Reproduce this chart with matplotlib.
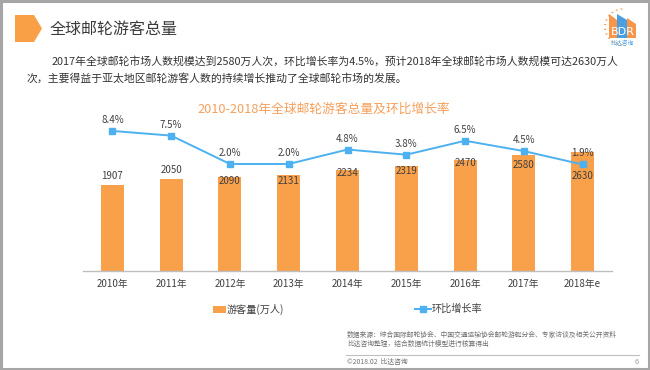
import matplotlib
matplotlib.use('Agg')
import matplotlib.pyplot as plt
import numpy as np
from matplotlib.patches import Rectangle, Polygon, Circle
from matplotlib.lines import Line2D

plt.rcParams['font.family'] = ['Noto Sans CJK SC', 'DejaVu Sans']

# ---------------- data ----------------
years = ['2010年', '2011年', '2012年', '2013年', '2014年', '2015年', '2016年', '2017年', '2018年e']
visitors = [1907, 2050, 2090, 2131, 2234, 2319, 2470, 2580, 2630]
growth = [8.4, 7.5, 2.0, 2.0, 4.8, 3.8, 6.5, 4.5, 1.9]
growth_labels = ['8.4%', '7.5%', '2.0%', '2.0%', '4.8%', '3.8%', '6.5%', '4.5%', '1.9%']

# label placement (pixels, positive = downward from bar top)
bar_label_offsets = [-9, -9, 4, 6, 3, 5, 3, 10, 24]

W, H = 650, 370
fig = plt.figure(figsize=(6.5, 3.7), dpi=100)
fig.patch.set_facecolor('white')

def fx(p):
    return p / W

def fy(p):
    return 1 - p / H

ORANGE = '#F9A04B'
BLUE = '#4DB1F0'
TXT = '#404040'

# ---------------- main axes ----------------
ax = fig.add_axes([fx(83), fy(271), (612 - 83) / W, (271 - 100) / H])
x = np.arange(len(years))
ax.bar(x, visitors, width=0.39, color=ORANGE, zorder=2)
ax.set_xlim(-0.5, len(years) - 0.5)
ax.set_ylim(0, 3792)
for s in ['top', 'right', 'left']:
    ax.spines[s].set_visible(False)
ax.spines['bottom'].set_color('#BFBFBF')
ax.spines['bottom'].set_linewidth(1.0)
ax.set_yticks([])
ax.set_xticks(x)
ax.set_xticklabels(years, fontsize=7, color=TXT)
ax.tick_params(axis='x', length=0, pad=6)

for i, v in enumerate(visitors):
    ax.annotate(str(v), (i, v), xytext=(0, -bar_label_offsets[i]), textcoords='offset pixels',
                ha='center', va='center', fontsize=7, color=TXT, zorder=5)

ax2 = ax.twinx()
ax2.plot(x, growth, color=BLUE, lw=1.4, marker='s', markersize=5, zorder=3)
ax2.set_ylim(-18.74, 14.4)
ax2.set_yticks([])
for s in ['top', 'right', 'left', 'bottom']:
    ax2.spines[s].set_visible(False)
for i, v in enumerate(growth):
    ax2.annotate(growth_labels[i], (i, v), xytext=(0, 11), textcoords='offset pixels',
                 ha='center', va='center', fontsize=7, color=TXT, zorder=5)

# chart title
fig.text(fx(323.5), fy(109), '2010-2018年全球邮轮游客总量及环比增长率', ha='center', va='center',
         fontsize=9.2, color='#F5A05C')

# ---------------- legend ----------------
fig.patches.append(Rectangle((fx(213), fy(313)), 13 / W, 7 / H, transform=fig.transFigure,
                             facecolor=ORANGE, edgecolor='none'))
fig.text(fx(227), fy(309), '游客量(万人)', ha='left', va='center', fontsize=7.3, color=TXT)
fig.lines.append(Line2D([fx(415), fx(431)], [fy(309), fy(309)], transform=fig.transFigure,
                        color=BLUE, lw=1.5, marker=None))
fig.lines.append(Line2D([fx(423)], [fy(309)], transform=fig.transFigure,
                        color=BLUE, marker='s', markersize=4.5, lw=0))
fig.text(fx(432), fy(309), '环比增长率', ha='left', va='center', fontsize=7.3, color=TXT)

# ---------------- header ----------------
fig.patches.append(Polygon([(fx(15), fy(15)), (fx(34), fy(15)), (fx(42), fy(28.5)),
                            (fx(34), fy(42)), (fx(15), fy(42))], closed=True,
                           transform=fig.transFigure, facecolor='#F9A046', edgecolor='none'))
fig.text(fx(50), fy(29), '全球邮轮游客总量', ha='left', va='center', fontsize=11.5, color='#3A3A3A')

fig.text(fx(52), fy(61),
         '2017年全球邮轮市场人数规模达到2580万人次，环比增长率为4.5%，预计2018年全球邮轮市场人数规模可达2630万人',
         ha='left', va='center', fontsize=7.8, color='#333333')
fig.text(fx(27), fy(78), '次，主要得益于亚太地区邮轮游客人数的持续增长推动了全球邮轮市场的发展。',
         ha='left', va='center', fontsize=7.8, color='#333333')

# ---------------- logo ----------------
for ang in np.linspace(95, 265, 12):
    a = np.deg2rad(ang)
    fig.patches.append(Circle((fx(623 + 18 * np.cos(a)), fy(27 - 18 * np.sin(a))), 0.0018,
                              transform=fig.transFigure, facecolor='#F7A04E', edgecolor='none'))
fig.patches.append(Polygon([(fx(609), fy(38)), (fx(609), fy(14)), (fx(617), fy(20)),
                            (fx(617), fy(38))], closed=True, transform=fig.transFigure,
                           facecolor='#F7954A', edgecolor='none'))
fig.patches.append(Polygon([(fx(617), fy(38)), (fx(617), fy(14)), (fx(627), fy(20)),
                            (fx(627), fy(38))], closed=True, transform=fig.transFigure,
                           facecolor='#4A9FE0', edgecolor='none'))
fig.patches.append(Polygon([(fx(627), fy(38)), (fx(627), fy(18)), (fx(636), fy(24)),
                            (fx(636), fy(38))], closed=True, transform=fig.transFigure,
                           facecolor='#F7954A', edgecolor='none'))
fig.text(fx(622.5), fy(32), 'BDR', ha='center', va='center', fontsize=8, color='white',
         family=['DejaVu Sans'])
fig.text(fx(622.5), fy(43), '比达咨询', ha='center', va='center', fontsize=4.2, color='#4A9FE0')

# ---------------- footer ----------------
fig.text(fx(347), fy(335), '数据来源：综合国际邮轮协会、中国交通运输协会邮轮游艇分会、专家访谈及相关公开资料',
         ha='left', va='center', fontsize=4.9, color='#707070')
fig.text(fx(347), fy(344), '比达咨询整理，结合数据统计模型进行核算得出',
         ha='left', va='center', fontsize=4.9, color='#707070')
fig.lines.append(Line2D([fx(346), fx(639)], [fy(355), fy(355)], transform=fig.transFigure,
                        color='#BFBFBF', lw=0.8))
fig.text(fx(347), fy(362), '©2018.02  比达咨询', ha='left', va='center', fontsize=4.9, color='#707070')
fig.text(fx(639), fy(362), '6', ha='right', va='center', fontsize=5.5, color='#A0A0A0')

# ---------------- frame ----------------
fig.patches.append(Rectangle((0.0015, 0.0025), 0.997, 0.995, transform=fig.transFigure,
                             facecolor='none', edgecolor='#A6A6A6', lw=2.2))

fig.savefig('out.png', dpi=100)
